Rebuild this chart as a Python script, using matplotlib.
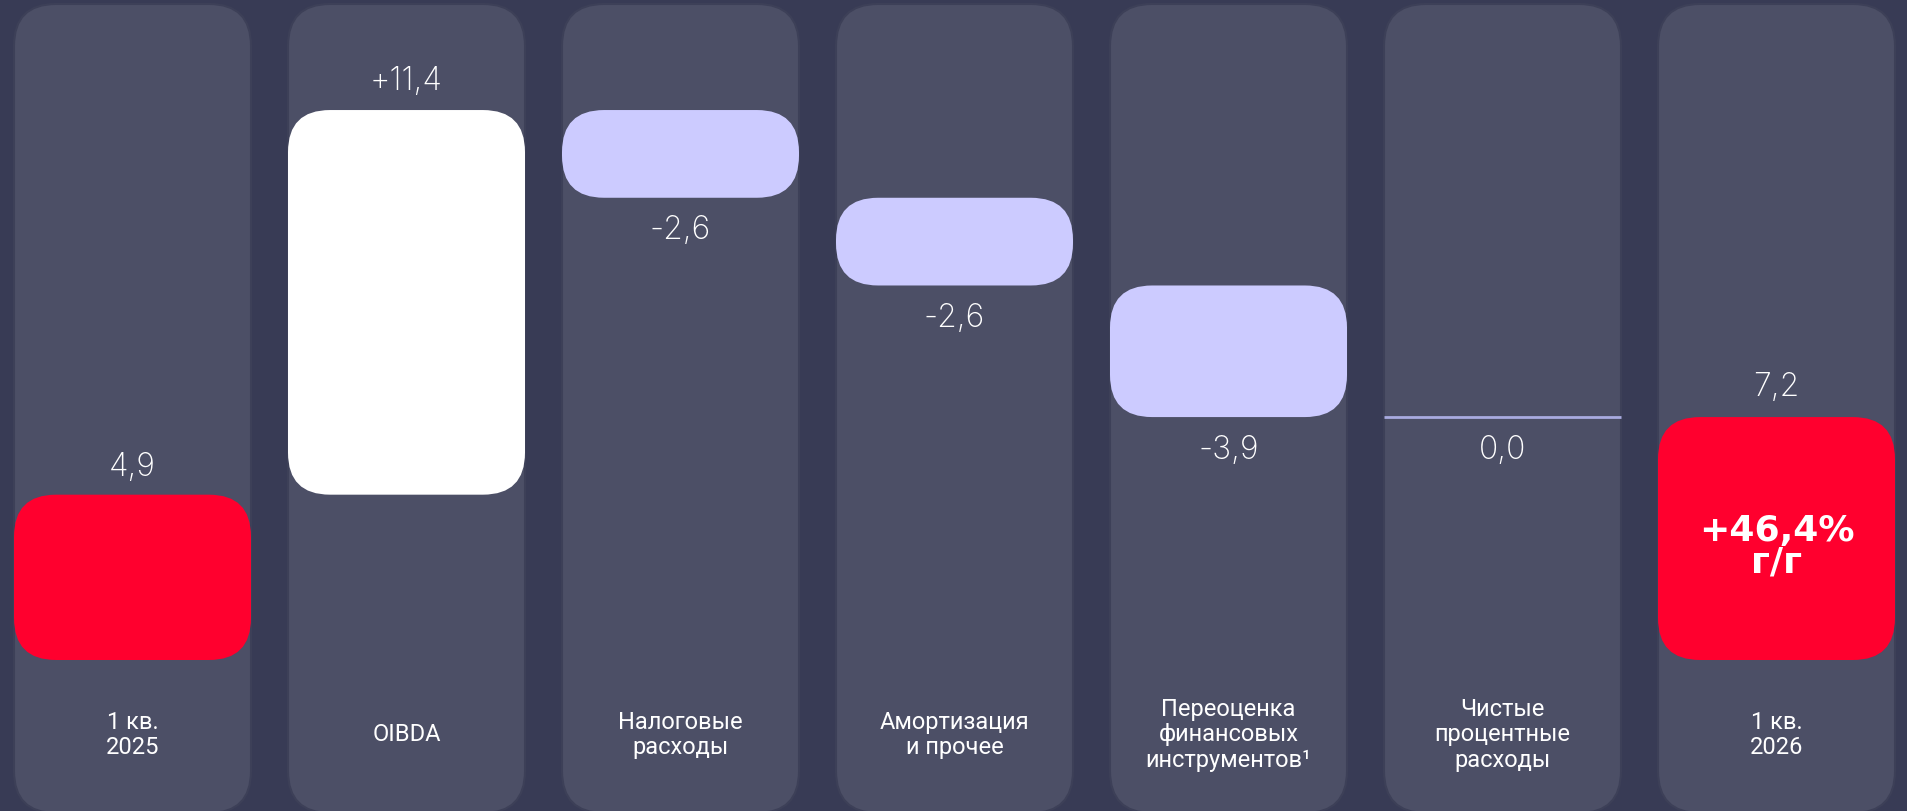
import matplotlib
matplotlib.use('Agg')
import matplotlib.pyplot as plt
from matplotlib.patches import FancyBboxPatch
import numpy as np

# data (bn rub), waterfall from Q1 2025 to Q1 2026
categories = ['1 кв.\n2025', 'OIBDA', 'Налоговые\nрасходы', 'Амортизация\nи прочее',
              'Переоценка\nфинансовых\nинструментов¹', 'Чистые\nпроцентные\nрасходы', '1 кв.\n2026']
start_value = 4.9
changes = [11.4, -2.6, -2.6, -3.9, 0.0]
end_value = 7.2
growth_label = '+46,4%\nг/г'

# colours
BG = '#383b55'
PANEL = '#4c4f66'
PANEL_EDGE = '#3d4058'
RED = '#ff002e'
WHITE = '#ffffff'
LAVENDER = '#cccbff'
ZERO_LINE = '#a9abe0'

# layout, in pixels of the 1908x812 canvas
W, H = 1908, 812
PITCH = 274.0          # px between column centres
FIRST_CENTER = 132.5   # px, centre of first column
BAR_W_PX = 237.0
PX_PER_UNIT = 33.74    # vertical px per bn
ZERO_Y = 661.0         # px from top where value 0 sits
RADIUS_PX = 42.0

px_x = 1.0 / PITCH
px_y = 1.0 / PX_PER_UNIT

fig = plt.figure(figsize=(W / 100, H / 100), dpi=100)
fig.patch.set_facecolor(BG)
ax = fig.add_axes([0, 0, 1, 1])
x0 = -FIRST_CENTER * px_x
ax.set_xlim(x0, x0 + W * px_x)
ax.set_ylim(-(H - ZERO_Y) * px_y, ZERO_Y * px_y)
ax.axis('off')

aspect = px_y / px_x
width = BAR_W_PX * px_x
radius = RADIUS_PX * px_x


def rounded(x, y0, y1, color, z, edge=None):
    p = FancyBboxPatch((x - width / 2, y0), width, y1 - y0,
                       boxstyle='round,pad=0,rounding_size={0}'.format(radius),
                       mutation_aspect=aspect, facecolor=color,
                       edgecolor=edge if edge else 'none', linewidth=1.5, zorder=z)
    ax.add_patch(p)


def fmt(v, sign=False):
    s = '{0:+.1f}'.format(v) if sign and v > 0 else '{0:.1f}'.format(v)
    return s.replace('.', ',')


xs = np.arange(len(categories))

# background panels
panel_top = (ZERO_Y - 5) * px_y
panel_bot = (ZERO_Y - 814) * px_y
for x in xs:
    rounded(x, panel_bot, panel_top, PANEL, 1, PANEL_EDGE)

# bars
levels = [start_value] + list(start_value + np.cumsum(changes))
value_font = dict(family=['Inter', 'DejaVu Sans'], fontsize=23, fontweight='light', color=WHITE)
off_up = 21   # points between bar and value label
off_dn = 23

# first total
rounded(xs[0], 0, start_value, RED, 3)
ax.annotate(fmt(start_value), (xs[0], start_value), xytext=(0, off_up - 1),
            textcoords='offset points', ha='center', va='center', zorder=5, **value_font)

for i, ch in enumerate(changes):
    x = xs[i + 1]
    lo, hi = sorted([levels[i], levels[i + 1]])
    if ch == 0:
        ax.plot([x - width / 2, x + width / 2], [hi, hi], color=ZERO_LINE, lw=2, zorder=3,
                solid_capstyle='butt')
        ax.annotate(fmt(ch), (x, lo), xytext=(0, -off_dn), textcoords='offset points',
                    ha='center', va='center', zorder=5, **value_font)
    elif ch > 0:
        rounded(x, lo, hi, WHITE, 3)
        ax.annotate(fmt(ch, sign=True), (x, hi), xytext=(0, off_up), textcoords='offset points',
                    ha='center', va='center', zorder=5, **value_font)
    else:
        rounded(x, lo, hi, LAVENDER, 3)
        ax.annotate(fmt(ch), (x, lo), xytext=(0, -off_dn), textcoords='offset points',
                    ha='center', va='center', zorder=5, **value_font)

# final total
rounded(xs[-1], 0, end_value, RED, 3)
ax.annotate(fmt(end_value), (xs[-1], end_value), xytext=(0, off_up + 1),
            textcoords='offset points', ha='center', va='center', zorder=5, **value_font)
ax.annotate(growth_label, (xs[-1], end_value / 2), xytext=(0, -5), textcoords='offset points',
            ha='center', va='center', ma='center', color=WHITE, fontsize=26,
            fontweight='bold', family='DejaVu Sans', linespacing=0.92, zorder=5)

# category labels
label_y = (ZERO_Y - 735) * px_y
for x, cat in zip(xs, categories):
    ax.text(x, label_y, cat, ha='center', va='center', ma='center', color=WHITE,
            fontsize=17, family=['Roboto', 'DejaVu Sans'],
            linespacing=1.15, zorder=5)

fig.savefig('out.png', dpi=100, facecolor=fig.get_facecolor())
